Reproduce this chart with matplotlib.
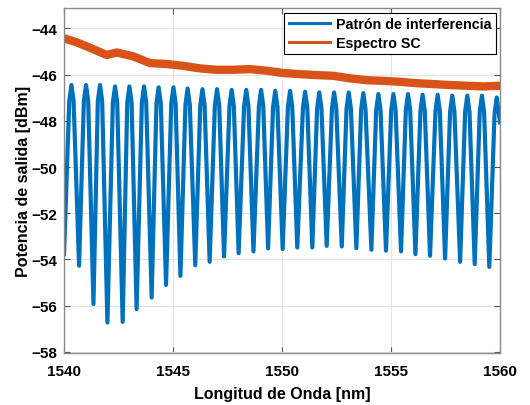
import matplotlib
matplotlib.use("Agg")
import matplotlib.pyplot as plt
from matplotlib.lines import Line2D

plt.rcParams['font.family'] = ['Liberation Sans', 'DejaVu Sans']
plt.rcParams['font.weight'] = 'bold'

# Interference pattern: read extrema (wavelength nm, power dBm)
start_wl, start_pw = 1540.0, -53.77
end_wl, end_pw = 1560.0, -48.07
peak_wl = [1540.34, 1541.01, 1541.65, 1542.34, 1543.00, 1543.67, 1544.34, 1545.02,
           1545.67, 1546.35, 1547.02, 1547.69, 1548.36, 1549.04, 1549.69, 1550.37,
           1551.06, 1551.71, 1552.39, 1553.06, 1553.73, 1554.42, 1555.11, 1555.78,
           1556.45, 1557.14, 1557.81, 1558.50, 1559.17, 1559.85]
peak_pw = [-46.45, -46.45, -46.45, -46.51, -46.51, -46.51, -46.55, -46.55,
           -46.60, -46.63, -46.63, -46.66, -46.66, -46.66, -46.70, -46.70,
           -46.74, -46.77, -46.77, -46.77, -46.80, -46.84, -46.84, -46.84,
           -46.87, -46.87, -46.91, -46.91, -46.91, -46.99]
trough_wl = [1540.69, 1541.35, 1541.99, 1542.69, 1543.33, 1544.02, 1544.68, 1545.34,
             1546.02, 1546.68, 1547.34, 1548.01, 1548.69, 1549.36, 1550.03, 1550.70,
             1551.39, 1552.05, 1552.74, 1553.41, 1554.10, 1554.77, 1555.46, 1556.12,
             1556.79, 1557.48, 1558.17, 1558.84, 1559.51]
trough_pw = [-54.27, -55.93, -56.73, -56.70, -56.15, -55.65, -55.10, -54.71,
             -54.25, -54.10, -53.87, -53.73, -53.65, -53.52, -53.55, -53.48,
             -53.48, -53.41, -53.44, -53.51, -53.58, -53.62, -53.65, -53.77,
             -53.84, -53.96, -54.10, -54.20, -54.32]
# rounded fringe tops: points ~0.1 nm either side of a
# peak sit ~0.7 dB below it
shoulder_dwl = 0.1
shoulder_drop = 0.7

# SC spectrum
sc_wl = [1540.0, 1540.58, 1541.35, 1541.96, 1542.42, 1543.18, 1543.94, 1544.71,
         1545.47, 1546.24, 1547.00, 1547.77, 1548.53, 1549.30, 1550.06, 1550.83,
         1551.59, 1552.35, 1553.12, 1553.88, 1554.65, 1555.41, 1556.18, 1556.94,
         1557.71, 1558.47, 1559.24, 1560.0]
sc_pw = [-44.43, -44.60, -44.90, -45.15, -45.04, -45.21, -45.50, -45.54,
         -45.62, -45.73, -45.79, -45.79, -45.76, -45.83, -45.93, -45.98,
         -46.02, -46.05, -46.16, -46.24, -46.27, -46.31, -46.37, -46.41,
         -46.45, -46.48, -46.51, -46.48]

xticks = [1540, 1545, 1550, 1555, 1560]
yticks = [-58, -56, -54, -52, -50, -48, -46, -44]

# assemble interference trace in order
pat_wl = [start_wl]
pat_pw = [start_pw]
for i in range(len(peak_wl)):
    pat_wl += [peak_wl[i] - shoulder_dwl, peak_wl[i]]
    pat_pw += [peak_pw[i] - shoulder_drop, peak_pw[i]]
    if peak_wl[i] + shoulder_dwl < end_wl:
        pat_wl.append(peak_wl[i] + shoulder_dwl)
        pat_pw.append(peak_pw[i] - shoulder_drop)
    if i < len(trough_wl):
        pat_wl.append(trough_wl[i]); pat_pw.append(trough_pw[i])
pat_wl.append(end_wl); pat_pw.append(end_pw)

blue = '#0072BD'
orange = '#D95319'

fig = plt.figure(figsize=(5.30, 4.06), dpi=100)
ax = fig.add_axes([0.1208, 0.128, 0.8226, 0.849])

ax.plot(pat_wl, pat_pw, color=blue, lw=3.0, solid_joinstyle='round')
ax.plot(sc_wl, sc_pw, color=orange, lw=6.0, solid_joinstyle='round')

ax.set_xlim(1540, 1560)
ax.set_ylim(-58.05, -43.13)
ax.set_xticks(xticks)
ax.set_yticks(yticks)
ax.tick_params(direction='in', length=4, width=0.8, color='#555555',
               labelsize=11, top=True, right=True)
ax.tick_params(axis='x', pad=8)
ax.tick_params(axis='y', pad=5)
for lab in ax.get_xticklabels() + ax.get_yticklabels():
    lab.set_fontweight('bold')
ax.grid(True, color='#e3e3e3', lw=0.8)
ax.set_axisbelow(True)
for s in ax.spines.values():
    s.set_color('#8a8a8a')
    s.set_linewidth(1.0)

ax.set_xlabel('Longitud de Onda [nm]', fontsize=11.5, fontweight='bold', labelpad=6)
ax.set_ylabel('Potencia de salida [dBm]', fontsize=11.5, fontweight='bold', labelpad=0)

handles = [Line2D([], [], color=blue, lw=2.2), Line2D([], [], color=orange, lw=2.2)]
leg = ax.legend(handles, ['Patrón de interferencia', 'Espectro SC'],
                loc='upper right', frameon=True, fancybox=False,
                edgecolor='black', framealpha=1, borderaxespad=0.3,
                handlelength=2.9, handletextpad=0.4, borderpad=0.3, labelspacing=0.35,
                prop={'weight': 'bold', 'size': 10.3})
leg.get_frame().set_linewidth(0.8)

fig.savefig('out.png', dpi=100)
